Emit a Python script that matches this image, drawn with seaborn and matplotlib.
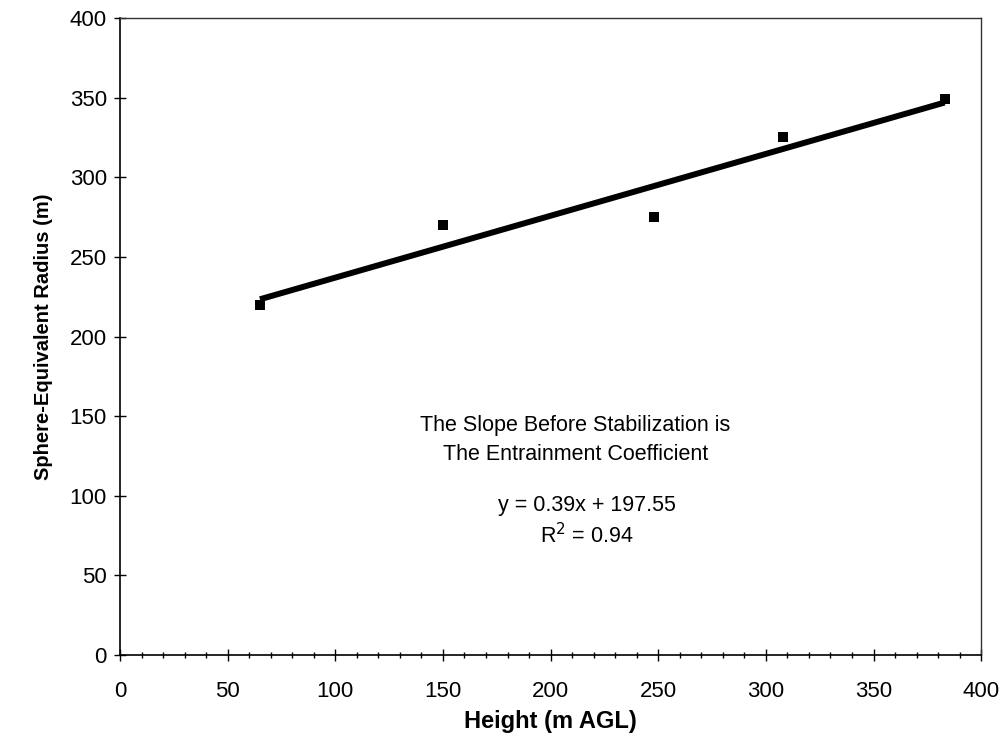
import matplotlib.pyplot as plt
import seaborn as sns
import pandas as pd
from matplotlib.ticker import MultipleLocator

# Data
height = [65, 150, 248, 308, 383]
radius = [220, 270, 275, 325, 349]

df = pd.DataFrame({'height': height, 'radius': radius})

sns.set_theme(style='ticks')
plt.rcParams['font.family'] = ['Liberation Sans', 'DejaVu Sans']
plt.rcParams['text.color'] = 'black'
plt.rcParams['axes.labelcolor'] = 'black'

fig = plt.figure(figsize=(10.02, 7.45), dpi=100)
ax = fig.add_axes([0.1198, 0.1208, 0.8594, 0.855])

# Linear trend line over the data range
sns.regplot(data=df, x='height', y='radius', ax=ax, ci=None, truncate=True,
            scatter=False, line_kws={'color': 'black', 'lw': 4.3,
                                     'solid_capstyle': 'butt'})
sns.scatterplot(data=df, x='height', y='radius', ax=ax, marker='s', s=55,
                color='black', edgecolor='black', linewidth=0, zorder=3)

ax.set_xlim(0, 400)
ax.set_ylim(0, 400)
ax.xaxis.set_major_locator(MultipleLocator(50))
ax.xaxis.set_minor_locator(MultipleLocator(10))
ax.yaxis.set_major_locator(MultipleLocator(50))

ax.tick_params(axis='both', which='major', direction='inout', length=9,
               width=1, color='black', labelsize=16, labelcolor='black')
ax.tick_params(axis='x', which='major', pad=14)
ax.tick_params(axis='y', which='major', pad=5)
ax.tick_params(axis='x', which='minor', direction='inout', length=5,
               width=1, color='black')

for side in ['left', 'bottom']:
    ax.spines[side].set_color('black')
    ax.spines[side].set_linewidth(1.2)
for side in ['top', 'right']:
    ax.spines[side].set_visible(True)
    ax.spines[side].set_color('#333333')
    ax.spines[side].set_linewidth(1.0)

ax.set_xlabel('Height (m AGL)', fontsize=17, fontweight='bold', labelpad=6)
ax.set_ylabel('Sphere-Equivalent Radius (m)', fontsize=14.5, fontweight='bold',
              labelpad=12)

ax.text(211.5, 135, 'The Slope Before Stabilization is\nThe Entrainment Coefficient',
        ha='center', va='center', fontsize=15.5, linespacing=1.45)
ax.text(217, 84, 'y = 0.39x + 197.55\nR$^2$ = 0.94',
        ha='center', va='center', fontsize=15.5, linespacing=1.35)

plt.savefig('out.png', dpi=100)
plt.close()
